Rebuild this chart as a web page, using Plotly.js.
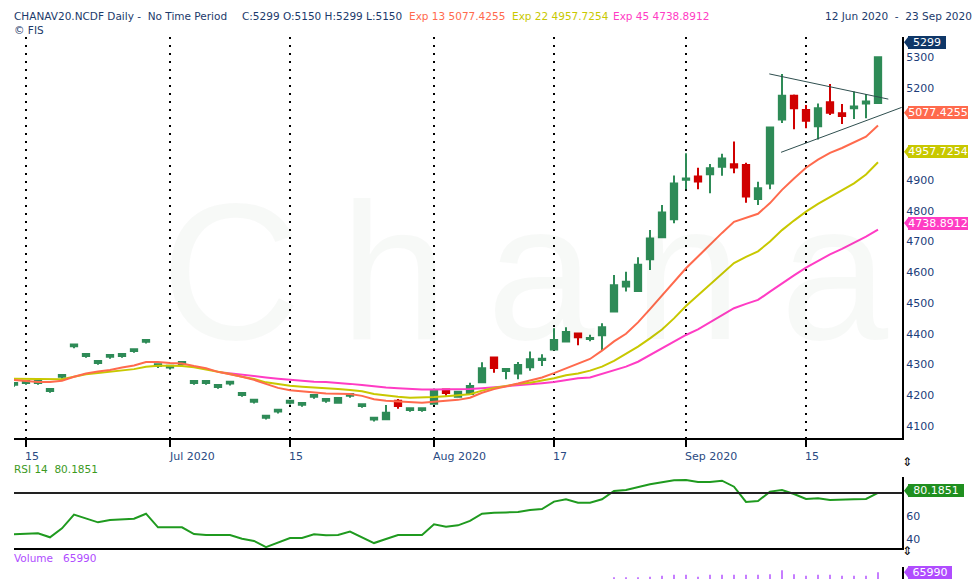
<!DOCTYPE html>
<html><head><meta charset="utf-8">
<script src="https://cdn.plot.ly/plotly-3.0.1.min.js"></script>
<style>html,body{margin:0;padding:0;background:#fff;overflow:hidden}#chart{width:975px;height:579px}</style>
</head><body><div id="chart"></div>
<script>
// ---------------- DATA ----------------
const dates = ['2020-06-12',
 '2020-06-15','2020-06-16','2020-06-17','2020-06-18','2020-06-19',
 '2020-06-22','2020-06-23','2020-06-24','2020-06-25','2020-06-26',
 '2020-06-29','2020-06-30','2020-07-01','2020-07-02','2020-07-03',
 '2020-07-06','2020-07-07','2020-07-08','2020-07-09','2020-07-10',
 '2020-07-13','2020-07-14','2020-07-15','2020-07-16','2020-07-17',
 '2020-07-20','2020-07-21','2020-07-22','2020-07-23','2020-07-24',
 '2020-07-27','2020-07-28','2020-07-29','2020-07-30',
 '2020-08-03','2020-08-04','2020-08-05','2020-08-06','2020-08-07',
 '2020-08-10','2020-08-11','2020-08-12','2020-08-13','2020-08-14',
 '2020-08-17','2020-08-18','2020-08-19','2020-08-20','2020-08-21',
 '2020-08-24','2020-08-25','2020-08-26','2020-08-27','2020-08-28',
 '2020-08-31','2020-09-01','2020-09-02','2020-09-03','2020-09-04',
 '2020-09-07','2020-09-08','2020-09-09','2020-09-10','2020-09-11',
 '2020-09-14','2020-09-15','2020-09-16','2020-09-17','2020-09-18',
 '2020-09-21','2020-09-22','2020-09-23'];

const opens = [4234,
 4240,4240,4214,4260,4359, 4328,4305,4325,4328,4344, 4374,4295,4290,4302,4240,
 4240,4227,4238,4201,4179, 4127,4147,4176,4169,4195, 4182,4176,4198,4165,4121,
 4122,4182,4152,4152, 4172,4219,4195,4204,4242, 4323,4279,4271,4291,4315,
 4349,4375,4401,4383,4395, 4472,4554,4539,4642,4714, 4772,4901,4911,4919,4943,
 4951,4949,4838,4889,5097, 5174,5128,5075,5153,5117, 5133,5149,5150];
const highs = [4240,
 4246,4246,4220,4266,4365, 4334,4311,4331,4334,4350, 4380,4301,4296,4308,4246,
 4246,4233,4244,4207,4185, 4133,4153,4182,4175,4201, 4188,4192,4204,4171,4127,
 4168,4188,4158,4158, 4222,4221,4213,4241,4307, 4325,4285,4308,4342,4333,
 4418,4421,4403,4397,4434, 4591,4602,4649,4737,4819, 4915,4987,4940,4952,4985,
 5025,4956,4894,5072,5245, 5178,5144,5149,5212,5147, 5188,5180,5299];
const lows = [4228,
 4234,4234,4208,4254,4353, 4322,4299,4319,4322,4338, 4368,4289,4284,4296,4234,
 4234,4221,4232,4195,4173, 4121,4141,4170,4163,4189, 4176,4175,4192,4159,4115,
 4120,4156,4146,4146, 4170,4198,4193,4202,4240, 4273,4252,4252,4280,4295,
 4347,4373,4363,4376,4347, 4470,4537,4537,4607,4712, 4759,4870,4870,4857,4914,
 4922,4826,4819,4870,5085, 5065,5068,5032,5111,5082, 5098,5101,5150];
const closes = [4240,
 4246,4246,4220,4266,4365, 4334,4311,4331,4334,4350, 4380,4301,4296,4308,4246,
 4246,4233,4244,4207,4185, 4133,4153,4182,4175,4201, 4188,4191,4204,4171,4127,
 4143,4165,4158,4158, 4217,4207,4211,4230,4288, 4289,4285,4298,4317,4319,
 4380,4406,4389,4386,4421, 4558,4569,4624,4710,4794, 4889,4905,4895,4938,4970,
 4941,4846,4873,5071,5174, 5133,5093,5133,5119,5108, 5139,5155,5299];

const ema13 = [4250,
 4246,4243,4243,4247,4260, 4271,4277,4282,4290,4297, 4308,4308,4305,4303,4295,
 4288,4276,4269,4260,4250, 4236,4224,4216,4213,4208, 4206,4205,4204,4198,4187,
 4182,4180,4176,4176, 4179,4181,4185,4192,4208, 4220,4228,4238,4248,4258,
 4272,4288,4303,4318,4345, 4375,4400,4437,4480,4525, 4568,4613,4651,4690,4728,
 4764,4776,4790,4825,4868, 4905,4940,4966,4988,5004, 5022,5041,5077.4255];
const ema22 = [4254,
 4254,4254,4252,4252,4260, 4268,4272,4276,4279,4285, 4293,4296,4296,4295,4291,
 4284,4276,4269,4260,4253, 4242,4236,4231,4228,4226, 4223,4220,4217,4213,4204,
 4199,4195,4192,4192, 4194,4197,4199,4203,4215, 4224,4230,4237,4241,4247,
 4255,4265,4271,4280,4293, 4312,4334,4358,4385,4414, 4450,4490,4525,4560,4595,
 4630,4650,4668,4700,4737, 4768,4797,4822,4845,4866, 4889,4918,4957.7254];
const ema45 = [null,
 null,null,null,null,null, null,null,null,null,null, null,null,null,null,null,
 null,4276,4271,4268,4263, 4258,4254,4250,4246,4244, 4243,4241,4237,4233,4228,
 4225,4223,4220,4219, 4219,4219,4219,4220,4223, 4226,4228,4231,4234,4239,
 4243,4250,4255,4258,4269, 4280,4293,4309,4331,4352, 4374,4396,4414,4437,4460,
 4483,4497,4510,4537,4564, 4590,4615,4637,4658,4676, 4696,4716,4738.8912];

const rsi14 = [44.1,
 44.6,45.0,41.5,49.3,61.2, 57.7,54.5,56.5,57.1,57.7, 62.0,50.2,50.2,50.2,44.3,
 43.5,43.5,43.5,40.3,38.3, 33.0,37.1,40.9,40.9,44.1, 43.2,43.5,46.4,41.5,36.5,
 40.0,43.5,43.5,43.5, 52.8,50.7,51.9,55.7,62.0, 62.9,63.1,63.5,65.2,66.1,
 72.5,74.5,71.6,71.6,74.5, 81.7,82.6,85.0,87.6,89.3, 91.0,91.3,89.6,89.6,90.7,
 85.5,72.2,73.0,81.2,82.6, 79.1,74.8,75.4,73.9,73.9, 74.5,74.8,80.1851];

// only the tops of the last bars are visible in the picture
const volume = [null,
 null,null,null,null,null, null,null,null,null,null, null,null,null,null,null,
 null,null,null,null,null, null,null,null,null,null, null,null,null,null,null,
 null,null,null,null, null,null,null,null,null, null,null,null,null,null,
 null,null,null,null,null, 56800,56800,56800,57800,59600, 61300,61300,57800,61300,61300,
 61300,61300,61300,62500,69500, 62500,59600,61300,61300,59600, 59600,59600,65990];

const tickDates  = ['2020-06-15','2020-07-01','2020-07-15','2020-08-03','2020-08-17','2020-09-01','2020-09-15'];
const tickLabels = ['15','Jul 2020','15','Aug 2020','17','Sep 2020','15'];
// 5000, 5100 and RSI 80 are hidden behind the value boxes in the picture
const priceTicks = [4100,4200,4300,4400,4500,4600,4700,4800,4900,5200,5300];
const rsiTicks = [40,60];
const rsiLevel = 80;
const trendUpper = {x:[62.94,72.86], y:[5245,5163]};
const trendLower = {x:[63.92,73.97], y:[4990,5136]};
const last = {open:5150, high:5299, low:5150, close:5299,
  ema13:'5077.4255', ema22:'4957.7254', ema45:'4738.8912', rsi:'80.1851', vol:'65990'};

// ---------------- LAYOUT HELPERS ----------------
const W=975,H=579,ML=14,MR=73,PW=W-ML-MR;
const px2x = p => (p-ML)/PW;
const py2y = p => 1-p/H;
const NAVY='#1b3a6b', C13='#ff6a4d', C22='#c8c800', C45='#ff3cc4', CRSI='#1f9a1f', CVOL='#b04cff';
const FONT='DejaVu Sans';

const traces = [
 {type:'scatter',mode:'lines',x:dates,y:ema45,line:{color:C45,width:2},xaxis:'x',yaxis:'y',hoverinfo:'skip'},
 {type:'scatter',mode:'lines',x:dates,y:ema22,line:{color:C22,width:2},xaxis:'x',yaxis:'y',hoverinfo:'skip'},
 {type:'scatter',mode:'lines',x:dates,y:ema13,line:{color:C13,width:2},xaxis:'x',yaxis:'y',hoverinfo:'skip'},
 {type:'candlestick',x:dates,open:opens,high:highs,low:lows,close:closes,xaxis:'x',yaxis:'y',
  increasing:{line:{color:'#2e8b57',width:2},fillcolor:'#2e8b57'},
  decreasing:{line:{color:'#d00000',width:2},fillcolor:'#d00000'},hoverinfo:'skip'},
 {type:'scatter',mode:'lines',x:dates,y:rsi14,line:{color:CRSI,width:2},xaxis:'x2',yaxis:'y2',hoverinfo:'skip'},
 {type:'bar',x:dates,y:volume,marker:{color:CVOL},width:0.12,xaxis:'x3',yaxis:'y3',hoverinfo:'skip'}
];

const tickIdx = tickDates.map(d=>dates.indexOf(d));
const annotations = [];
function txt(text,x,y,opts){annotations.push(Object.assign({text,x,y,xref:'paper',yref:'paper',showarrow:false,
  xanchor:'left',yanchor:'middle',borderpad:0,borderwidth:0,font:{family:FONT,size:10.5,color:NAVY}},opts||{}));}

// watermark
txt('C\u2009h\u2009a\u2009n\u2009a',px2x(524),py2y(271),{xanchor:'center',font:{family:'Liberation Sans',size:194,color:'rgba(0,60,0,0.03)'}});
// header
txt('CHANAV20.NCDF Daily -\u00a0\u00a0No Time Period',px2x(14),py2y(16));
txt('C:'+last.close+' O:'+last.open+' H:'+last.high+' L:'+last.low,px2x(242),py2y(16));
txt('Exp 13 '+last.ema13,px2x(409),py2y(16),{font:{family:FONT,size:10.5,color:C13}});
txt('Exp 22 '+last.ema22,px2x(512),py2y(16),{font:{family:FONT,size:10.5,color:C22}});
txt('Exp 45 '+last.ema45,px2x(613),py2y(16),{font:{family:FONT,size:10.5,color:C45}});
txt('\u00a9 FIS',px2x(14),py2y(30));
txt('12 Jun 2020\u00a0\u00a0-\u00a0\u00a023 Sep 2020',px2x(825),py2y(16));
txt('RSI 14\u00a0\u00a0'+last.rsi,px2x(14),py2y(469),{font:{family:FONT,size:10.5,color:'#3c9a1e'}});
txt('Volume\u00a0\u00a0 '+last.vol,px2x(14),py2y(558),{font:{family:FONT,size:10.5,color:CVOL}});
// x tick labels (left aligned at the tick)
tickIdx.forEach((ix,k)=>annotations.push({text:tickLabels[k],x:ix,xref:'x',y:py2y(456),yref:'paper',
  showarrow:false,xanchor:'left',yanchor:'middle',xshift:-1,borderpad:0,borderwidth:0,
  font:{family:FONT,size:11,color:'#2a4a82'}}));
// value boxes on the right, each with a small pointer
const shapes = [];
function box(text,val,yref,bg,w,ysh){
  annotations.push({text:text,x:1,xref:'paper',y:val,yref:yref,xanchor:'left',yanchor:'middle',xshift:6,yshift:ysh,
    showarrow:false,bgcolor:bg,width:w,height:13,align:'center',borderpad:0,borderwidth:0,
    font:{family:FONT,size:11,color:'#ffffff'}});
  shapes.push({type:'path',xref:'paper',yref:yref,xsizemode:'pixel',ysizemode:'pixel',xanchor:1,yanchor:val,
    path:`M 2 ${ysh} L 7 ${ysh+6.5} L 7 ${ysh-6.5} Z`,fillcolor:bg,line:{width:0}});
}
box(String(last.close),last.close,'y','#0f3768',38,15);
box(last.ema13,+last.ema13,'y',C13,60,12.7);
box(last.ema22,+last.ema22,'y',C22,60,10.5);
box(last.ema45,+last.ema45,'y',C45,60,6.5);
box(last.rsi,+last.rsi,'y2','#1f8f1f',56,2);
box(last.vol,+last.vol,'y3',CVOL,44,0);
// resize handles
txt('\u21d5',1+5/PW,py2y(462),{xanchor:'center',font:{family:FONT,size:12,color:'#000'}});
txt('\u21d5',1+5/PW,py2y(551),{xanchor:'center',font:{family:FONT,size:12,color:'#000'}});

shapes.push(
 {type:'line',xref:'x',yref:'y',x0:trendUpper.x[0],x1:trendUpper.x[1],y0:trendUpper.y[0],y1:trendUpper.y[1],line:{color:'#2f4f4f',width:1}},
 {type:'line',xref:'x',yref:'y',x0:trendLower.x[0],x1:trendLower.x[1],y0:trendLower.y[0],y1:trendLower.y[1],line:{color:'#2f4f4f',width:1}},
 {type:'line',xref:'paper',yref:'y2',x0:0,x1:1,y0:rsiLevel,y1:rsiLevel,line:{color:'#222',width:2}}
);

const xCommon = {type:'category',range:[0,74],fixedrange:true,zeroline:false};
const layout = {
 width:W,height:H,margin:{l:ML,r:MR,t:0,b:0},paper_bgcolor:'#fff',plot_bgcolor:'rgba(0,0,0,0)',
 showlegend:false,hovermode:false,boxgap:0.25,font:{family:FONT,size:11,color:NAVY},
 xaxis:Object.assign({},xCommon,{domain:[0,1],anchor:'y',rangeslider:{visible:false},
   tickmode:'array',tickvals:tickDates,showticklabels:false,ticks:'outside',ticklen:7,tickwidth:2,tickcolor:'#000',
   showline:true,linecolor:'#000',linewidth:2,showgrid:true,gridcolor:'#000',gridwidth:2,griddash:'2px,6px'}),
 xaxis2:Object.assign({},xCommon,{matches:'x',anchor:'y2',showticklabels:false,ticks:'',showgrid:false,
   showline:true,linecolor:'#000',linewidth:2}),
 xaxis3:Object.assign({},xCommon,{matches:'x',anchor:'y3',showticklabels:false,ticks:'',showgrid:false,showline:false}),
 yaxis:{domain:[py2y(438),py2y(37)],range:[4061,5365],side:'right',tickmode:'array',tickvals:priceTicks,
   showgrid:false,zeroline:false,showline:true,linecolor:'#000',linewidth:2,ticks:'',
   tickfont:{family:FONT,size:11,color:'#1c3d7a'},fixedrange:true},
 yaxis2:{domain:[py2y(548),py2y(477)],range:[32.2,93.9],side:'right',tickmode:'array',tickvals:rsiTicks,
   showgrid:false,zeroline:false,showline:true,linecolor:'#000',linewidth:2,ticks:'',
   tickfont:{family:FONT,size:11,color:'#1c3d7a'},fixedrange:true},
 yaxis3:{domain:[0,py2y(566.5)],range:[53834,76410],side:'right',showticklabels:false,
   showgrid:false,zeroline:false,showline:true,linecolor:'#000',linewidth:2,ticks:'',fixedrange:true},
 annotations:annotations,shapes:shapes
};
Plotly.newPlot('chart',traces,layout,{displayModeBar:false,staticPlot:true});
</script></body></html>
